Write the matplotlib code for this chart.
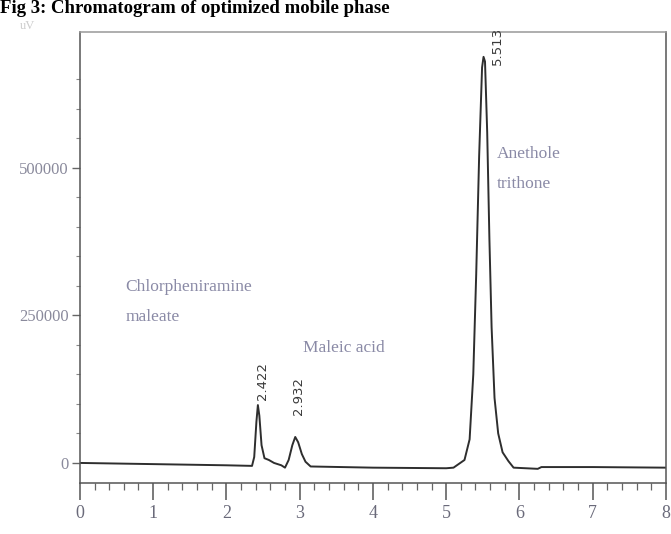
import matplotlib.pyplot as plt

# ===== DATA =====
# detector trace, time (min) vs signal (uV)
trace_time = [0.0, 1.0, 2.0, 2.35, 2.38, 2.41, 2.43, 2.45, 2.48, 2.52, 2.58, 2.65,
              2.75, 2.80, 2.85, 2.90, 2.94, 2.98, 3.03, 3.08, 3.15, 4.0, 5.0, 5.10,
              5.25, 5.32, 5.37, 5.41, 5.45, 5.49, 5.51, 5.53, 5.56, 5.59, 5.62,
              5.66, 5.71, 5.77, 5.85, 5.92, 6.25, 6.30, 7.0, 8.0]
trace_signal = [0, -2000, -4000, -5000, 10000, 70000, 98000, 80000, 30000, 8000, 5000, 0,
                -4000, -8000, 5000, 30000, 44000, 35000, 15000, 2000, -6000, -8000, -9000, -8000,
                5000, 40000, 150000, 320000, 520000, 670000, 688000, 680000, 560000, 380000, 230000,
                110000, 50000, 18000, 3000, -8000, -10000, -7000, -7000, -8000]

peak_rt = [2.422, 2.932, 5.513]
peak_label_x = [2.49, 2.98, 5.70]
peak_label_y = [107000, 81000, 675000]

compound_names = ['Chlorpheniramine\nmaleate', 'Maleic acid', 'Anethole\ntrithone']
compound_x = [0.62, 3.05, 5.69]
compound_y = [312000, 208000, 537000]

y_ticks = [0, 250000, 500000]
x_ticks = [0, 1, 2, 3, 4, 5, 6, 7, 8]

# ===== CHART =====
fig = plt.figure(figsize=(6.71, 5.34), dpi=100)
ax = fig.add_axes([0.119, 0.0955, 0.8735, 0.8445])

ax.plot(trace_time, trace_signal, color='#2e2e2e', linewidth=1.4)

for rt, lx, ly in zip(peak_rt, peak_label_x, peak_label_y):
    ax.text(lx, ly, f'{rt:.3f}', rotation=90,
            ha='center', va='bottom', fontsize=9.5, color='#3a3a3a')

for name, cx, cy in zip(compound_names, compound_x, compound_y):
    ax.text(cx, cy, name, fontsize=12.5, family='Liberation Serif', color='#8a8aa6',
            ha='left', va='top', linespacing=2.2)

ax.set_xlim(0, 8)
ax.set_ylim(-34000, 730000)

ax.set_xticks(x_ticks)
ax.set_xticks([i / 5 for i in range(41)], minor=True)
ax.set_yticks(y_ticks)
ax.set_yticks([i * 50000 for i in range(14)], minor=True)
ax.set_yticklabels([str(v) for v in y_ticks])

ax.tick_params(axis='x', which='major', length=12, width=1.1, color='#555555',
               labelsize=13, labelcolor='#6a6a7a', pad=4)
ax.tick_params(axis='x', which='minor', length=5, width=0.9, color='#666666')
ax.tick_params(axis='y', which='major', length=6, width=1.0, color='#666666',
               labelsize=12, labelcolor='#8a8a9c', pad=2)
ax.tick_params(axis='y', which='minor', length=3, width=0.8, color='#888888')
for lbl in ax.get_xticklabels() + ax.get_yticklabels():
    lbl.set_family('Liberation Serif')

for side in ['left', 'bottom', 'top', 'right']:
    ax.spines[side].set_color('#555555')
    ax.spines[side].set_linewidth(1.1)
ax.spines['top'].set_color('#999999')

fig.text(0.03, 0.945, 'uV', fontsize=9, color='#cccccc', family='Liberation Serif')
fig.text(0.0, 0.976, 'Fig 3: Chromatogram of optimized mobile phase', fontsize=13.5,
         fontweight='bold', family='Liberation Serif', va='baseline', ha='left')

fig.savefig('out.png', dpi=100)
